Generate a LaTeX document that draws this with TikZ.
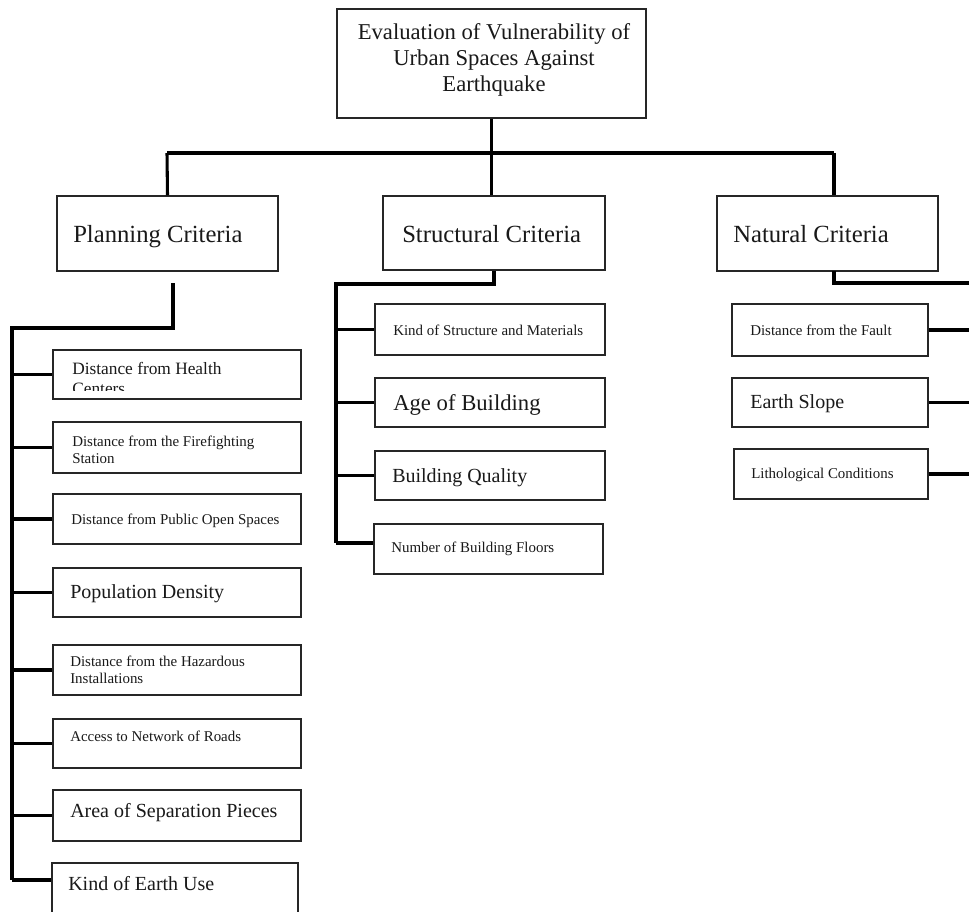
\documentclass[tikz,border=0pt]{standalone}
\usepackage{fontspec}
\setmainfont{Liberation Serif}
\usetikzlibrary{fit}
\begin{document}
\begin{tikzpicture}[x=0.75pt,y=-0.75pt,
  box/.style={draw=black!85, line width=0.9pt, inner sep=0pt, rectangle},
  conn/.style={draw=black, line width=2.3pt},
  lbl/.style={anchor=base west, inner sep=0pt, align=left, text=black!90},
  sm/.style={font=\fontsize{11.2}{12.4}\selectfont},
  md/.style={font=\fontsize{15}{17}\selectfont},
  hd/.style={font=\fontsize{18.5}{21}\selectfont}
]
\clip (0,0) rectangle (969,911);
\fill[white] (0,0) rectangle (969,911);

% root
\node[box, fit={(337,9) (646,118)}] (root) {};
\node[inner sep=0pt, align=center, anchor=center, text=black!90,
      font=\fontsize{17}{19.5}\selectfont] (rootT) at (494,60)
  {Evaluation of Vulnerability of\\Urban Spaces Against\\Earthquake};

% criteria
\node[box, fit={(57,196) (278,271)}] (plan) {};
\node[lbl, hd] (planT) at (73,242) {Planning Criteria};
\node[box, fit={(383,196) (605,270)}] (str) {};
\node[lbl, hd] (strT) at (402,242) {Structural Criteria};
\node[box, fit={(717,196) (938,271)}] (nat) {};
\node[lbl, hd] (natT) at (733,242) {Natural Criteria};

% planning sub-criteria (multi-line labels are placed by their last baseline)
\node[box, fit={(53,350) (301,399)}] (p1) {};
\begin{scope}
  \clip (53,350) rectangle (301,390);
  \node[lbl, font=\fontsize{13}{15}\selectfont] (p1T) at (72,394) {Distance from Health\\Centers};
\end{scope}
\node[box, fit={(53,422) (301,473)}] (p2) {};
\node[lbl, sm] (p2T) at (72,463.5) {Distance from the Firefighting\\Station};
\node[box, fit={(53,494) (301,544)}] (p3) {};
\node[lbl, sm] (p3T) at (71,524) {Distance from Public Open Spaces};
\node[box, fit={(53,568) (301,617)}] (p4) {};
\node[lbl, md] (p4T) at (70,598) {Population Density};
\node[box, fit={(53,645) (301,695)}] (p5) {};
\node[lbl, sm] (p5T) at (70,683.5) {Distance from the Hazardous\\Installations};
\node[box, fit={(53,719) (301,768)}] (p6) {};
\node[lbl, sm] (p6T) at (70,741) {Access to Network of Roads};
\node[box, fit={(53,790) (301,841)}] (p7) {};
\node[lbl, md] (p7T) at (70,817) {Area of Separation Pieces};
\node[box, fit={(52,863) (298,940)}] (p8) {};
\node[lbl, md] (p8T) at (68,890) {Kind of Earth Use};

% structural sub-criteria
\node[box, fit={(375,304) (605,355)}] (s1) {};
\node[lbl, sm] (s1T) at (393,335) {Kind of Structure and Materials};
\node[box, fit={(375,378) (605,427)}] (s2) {};
\node[lbl, font=\fontsize{17}{19}\selectfont] (s2T) at (393,410) {Age of Building};
\node[box, fit={(375,451) (605,500)}] (s3) {};
\node[lbl, md] (s3T) at (392,482) {Building Quality};
\node[box, fit={(374,524) (603,574)}] (s4) {};
\node[lbl, sm] (s4T) at (391,552) {Number of Building Floors};

% natural sub-criteria
\node[box, fit={(732,304) (928,356)}] (n1) {};
\node[lbl, sm] (n1T) at (750,335) {Distance from the Fault};
\node[box, fit={(732,378) (928,427)}] (n2) {};
\node[lbl, md] (n2T) at (750,408) {Earth Slope};
\node[box, fit={(734,449) (928,499)}] (n3) {};
\node[lbl, sm] (n3T) at (751,478) {Lithological Conditions};

% main connectors
\coordinate (barL) at (167,153);
\coordinate (barR) at (834,153);
\draw[conn] (barL) -- (barR);
\draw[conn] (root.south) -- (root.south |- str.north);
\draw[conn] (barL) -- (plan.north);
\draw[conn] (barR) -- (barR |- nat.north);

% planning tree
\coordinate (pA) at (173,283);
\coordinate (pB) at (12,328);
\coordinate (pEnd) at (12,880);
\draw[conn] (pA) |- (pB) -- (pEnd);
\foreach \b in {p1,p2,p3,p4,p5,p6,p7}{
  \draw[conn] (pB |- \b.west) -- (\b.west);
}
\draw[conn] (pEnd) -- (pEnd -| p8.west);

% structural tree
\coordinate (sB) at (336,284);
\coordinate (sEnd) at (336,543);
\draw[conn] (str.south) |- (sB) -- (sEnd);
\foreach \b in {s1,s2,s3}{
  \draw[conn] (sB |- \b.west) -- (\b.west);
}
\draw[conn] (sEnd) -- (sEnd -| s4.west);

% natural tree
\coordinate (nA) at (834,271);
\coordinate (nB) at (975,283);
\draw[conn] (nA) |- (nB);
\foreach \b in {n1,n2,n3}{
  \draw[conn] (\b.east) -- (\b.east -| nB);
}
\end{tikzpicture}
\end{document}
